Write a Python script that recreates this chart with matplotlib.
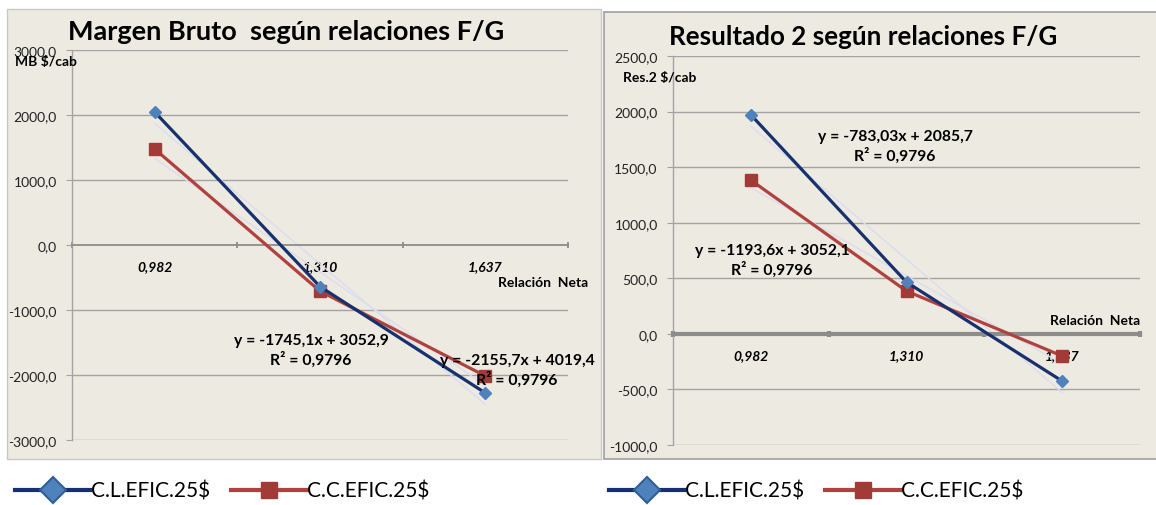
import numpy as np
import matplotlib
matplotlib.use("Agg")
import matplotlib.pyplot as plt
from matplotlib.lines import Line2D
from matplotlib.patches import Rectangle
from matplotlib.ticker import FuncFormatter

plt.rcParams['font.family'] = ['Lato', 'DejaVu Sans']

# data
categories = ["0,982", "1,310", "1,637"]
series_names = ["C.L.EFIC.25$", "C.C.EFIC.25$"]

mb_cl = [2046, -640, -2277]
mb_cc = [1477, -710, -2015]
res_cl = [1971, 465, -425]
res_cc = [1383, 385, -199]

mb_eq = ["y = -1745,1x + 3052,9\nR² = 0,9796", "y = -2155,7x + 4019,4\nR² = 0,9796"]
res_eq = ["y = -783,03x + 2085,7\nR² = 0,9796", "y = -1193,6x + 3052,1\nR² = 0,9796"]

mb_ticks = [-3000, -2000, -1000, 0, 1000, 2000, 3000]
res_ticks = [-1000, -500, 0, 500, 1000, 1500, 2000, 2500]

BG = "#EDEAE1"
GRID = "#A3A3A3"
NAVY = "#17306E"
BLUE_FACE = "#4F81BD"
BLUE_EDGE = "#2F5F95"
RED = "#B0413E"
RED_FACE = "#A23B38"

W, H = 1156, 506
fig = plt.figure(figsize=(W / 100, H / 100), dpi=100)
fig.patch.set_facecolor("white")


def fx(x):
    return x / W


def fy(y):
    return 1 - y / H


# panel backgrounds
fig.add_artist(Rectangle((fx(7), fy(460)), fx(594), 450 / H, transform=fig.transFigure,
                         facecolor=BG, edgecolor="#C8C8C8", lw=1, zorder=0))
fig.add_artist(Rectangle((fx(604), fy(460)), fx(560), 447 / H, transform=fig.transFigure,
                         facecolor=BG, edgecolor="#A0A0A0", lw=1.2, zorder=0))


def fmt(v, pos):
    return f"{v:.1f}".replace(".", ",")


def setup(ax, ticks, zero_lw):
    ax.set_facecolor("none")
    ax.set_ylim(ticks[0], ticks[-1])
    ax.set_xlim(0.5, 3.5)
    ax.set_yticks(ticks)
    ax.yaxis.set_major_formatter(FuncFormatter(fmt))
    ax.tick_params(axis="y", length=4, color=GRID, labelsize=10, labelcolor="#222222", pad=7)
    for t in ticks:
        if t != 0:
            ax.axhline(t, color=GRID, lw=1, zorder=1)
    for s in ["top", "right"]:
        ax.spines[s].set_visible(False)
    ax.spines["left"].set_color(GRID)
    ax.spines["left"].set_linewidth(1)
    ax.spines["bottom"].set_position(("data", 0))
    ax.spines["bottom"].set_color("#8C8C8C")
    ax.spines["bottom"].set_linewidth(zero_lw)
    ax.set_xticks([0.5, 1.5, 2.5, 3.5])
    ax.set_xticklabels([])
    ax.tick_params(axis="x", which="major", length=5, direction="inout", color="#8C8C8C", width=zero_lw)
    ax.set_xticks([1, 2, 3], minor=True)
    ax.set_xticklabels(categories, minor=True, fontsize=10, fontweight="bold", fontstyle="italic")
    ax.tick_params(axis="x", which="minor", length=0, pad=11)


def draw(ax, cl, cc):
    x = np.arange(1, len(categories) + 1)
    for vals in (cl, cc):
        k, b = np.polyfit(x, vals, 1)
        ax.plot(x, k * x + b, color="#DCDCF0", lw=1, zorder=2)
    ax.plot(x, cl, color=NAVY, lw=2.3, marker="D", ms=6, mfc=BLUE_FACE, mec=BLUE_FACE, zorder=4)
    ax.plot(x, cc, color=RED, lw=2.3, marker="s", ms=9, mfc=RED_FACE, mec=RED_FACE, zorder=3)


ax1 = fig.add_axes([fx(72), fy(441), fx(568 - 72), 390 / H])
setup(ax1, mb_ticks, 1.3)
draw(ax1, mb_cl, mb_cc)

ax2 = fig.add_axes([fx(673), fy(446), fx(1140 - 673), 389 / H])
setup(ax2, res_ticks, 3)
draw(ax2, res_cl, res_cc)

# titles and labels
fig.text(fx(68), fy(32), "Margen Bruto  según relaciones F/G", fontsize=19.5, fontweight="bold",
         va="center", ha="left")
fig.text(fx(669), fy(37), "Resultado 2 según relaciones F/G", fontsize=18.7, fontweight="bold",
         va="center", ha="left")
fig.text(fx(15), fy(62), "MB $/cab", fontsize=10, fontweight="bold", va="center", ha="left")
fig.text(fx(623), fy(78), "Res.2 $/cab", fontsize=10, fontweight="bold", va="center", ha="left")
fig.text(fx(588), fy(283), "Relación  Neta", fontsize=10, fontweight="bold", va="center", ha="right")
fig.text(fx(1140), fy(321), "Relación  Neta", fontsize=10, fontweight="bold", va="center", ha="right")

# trendline equations
eq_style = dict(fontsize=11.3, fontweight="bold", ha="center", va="center", linespacing=1.3, zorder=5)
fig.text(fx(311), fy(351), mb_eq[0], **eq_style)
fig.text(fx(517), fy(371), mb_eq[1], **eq_style)
fig.text(fx(895), fy(147), res_eq[0], **eq_style)
fig.text(fx(772), fy(261), res_eq[1], **eq_style)

# legends
handles = [Line2D([], [], color=NAVY, lw=3, marker="D", ms=13, mfc=BLUE_FACE, mec=BLUE_EDGE, mew=1.5),
           Line2D([], [], color=RED, lw=3, marker="s", ms=11, mfc=RED_FACE, mec=RED_FACE)]
for x0 in (15, 609):
    fig.legend(handles, series_names, loc="center left", bbox_to_anchor=(fx(x0), fy(492)),
               ncol=2, frameon=False, fontsize=15, handlelength=3.6, handletextpad=0.05,
               columnspacing=1.0, borderaxespad=0, borderpad=0)

fig.savefig("out.png", dpi=100)
